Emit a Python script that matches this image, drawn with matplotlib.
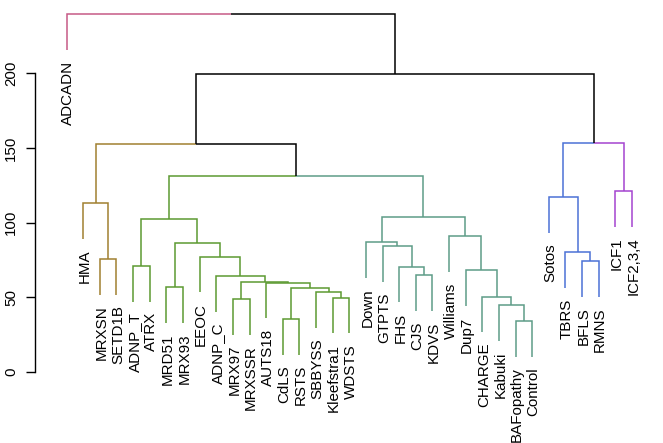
import matplotlib
matplotlib.use('Agg')
import matplotlib.pyplot as plt

# leaves, left to right
leaves = ['ADCADN', 'HMA', 'MRXSN', 'SETD1B', 'ADNP_T', 'ATRX', 'MRD51', 'MRX93',
          'EEOC', 'ADNP_C', 'MRX97', 'MRXSSR', 'AUTS18', 'CdLS', 'RSTS', 'SBBYSS',
          'Kleefstra1', 'WDSTS', 'Down', 'GTPTS', 'FHS', 'CJS', 'KDVS', 'Williams',
          'Dup7', 'CHARGE', 'Kabuki', 'BAFopathy', 'Control', 'Sotos', 'TBRS',
          'BFLS', 'RMNS', 'ICF1', 'ICF2,3,4']

# merges: name, left child, right child, height
merge_name = ['F', 'D', 'I', 'K', 'O', 'R', 'T', 'S', 'Q', 'P', 'N', 'M', 'L', 'J', 'G',
              'Y', 'X', 'W', 'U', 'AC', 'AB', 'AA', 'Z', 'V', 'H', 'E', 'B',
              'AG', 'AF', 'AD', 'AE', 'C', 'A', 'root']
merge_left = ['MRXSN', 'HMA', 'ADNP_T', 'MRD51', 'MRX97', 'CdLS', 'Kleefstra1', 'SBBYSS',
              'R', 'AUTS18', 'O', 'ADNP_C', 'EEOC', 'K', 'I',
              'CJS', 'FHS', 'GTPTS', 'Down', 'BAFopathy', 'Kabuki', 'CHARGE', 'Dup7',
              'Williams', 'U', 'G', 'D', 'BFLS', 'TBRS', 'Sotos', 'ICF1', 'AD', 'B', 'ADCADN']
merge_right = ['SETD1B', 'F', 'ATRX', 'MRX93', 'MRXSSR', 'RSTS', 'WDSTS', 'T',
               'S', 'Q', 'P', 'N', 'M', 'L', 'J',
               'KDVS', 'Y', 'X', 'W', 'Control', 'AC', 'AB', 'AA',
               'Z', 'V', 'H', 'E', 'RMNS', 'AG', 'AF', 'ICF2,3,4', 'AE', 'C', 'A']
merge_height = [75.7, 112.9, 71.0, 56.6, 48.9, 35.5, 49.6, 53.2, 56.3, 59.7, 60.3, 64.1,
                77.1, 86.1, 102.1, 64.8, 70.4, 84.2, 86.7, 34.0, 44.7, 50.3, 68.0, 90.9,
                103.9, 131.4, 152.8, 74.4, 80.0, 117.3, 121.3, 153.7, 199.5, 239.7]

# cluster roots and their branch colours
cluster_root = ['ADCADN', 'D', 'G', 'H', 'AD', 'AE']
cluster_color = ['#c65a86', '#a08030', '#5c9a32', '#5e9c88', '#4c72d6', '#a444d0']

yticks = [0, 50, 100, 150, 200]

children = {n: (l, r) for n, l, r in zip(merge_name, merge_left, merge_right)}
height = {n: h for n, h in zip(merge_name, merge_height)}
top = max(merge_height)
hang = 0.1 * top

xpos = {}
for i, lab in enumerate(leaves):
    xpos[lab] = i + 1
for n in merge_name:
    l, r = children[n]
    xpos[n] = (xpos[l] + xpos[r]) / 2

color = {}
def paint(node, c):
    color[node] = c
    if node in children:
        for ch in children[node]:
            paint(ch, c)
for n in merge_name + leaves:
    color.setdefault(n, 'black')
for n, c in zip(cluster_root, cluster_color):
    paint(n, c)

W, H = 663, 443
fig = plt.figure(figsize=(W / 100, H / 100), dpi=100)
# plot region in pixels: x 35..663.6, y 0..386
ax = fig.add_axes([35 / W, (H - 386) / H, 628.6 / W, 386 / H])
ax.set_xlim(-0.9, 36.9)
ax.set_ylim(-0.04 * top, top * 1.04)

lw = 1.1
fs = 10.9
leaf_end = {}
for n in merge_name:
    h = height[n]
    for ch in children[n]:
        if ch in children:
            bottom = height[ch]
        else:
            bottom = h - hang
            leaf_end[ch] = bottom
        c = color[ch]
        ax.plot([xpos[n], xpos[ch], xpos[ch]], [h, h, bottom], color=c, lw=lw,
                solid_capstyle='butt', solid_joinstyle='miter', clip_on=False)

for lab in leaves:
    ax.annotate(lab, (xpos[lab], leaf_end[lab]), xytext=(3.9, -7.5),
                textcoords='offset points', rotation=90, rotation_mode='anchor',
                ha='right', va='baseline', fontsize=fs, family='Liberation Sans',
                annotation_clip=False)

for s in ['top', 'right', 'bottom']:
    ax.spines[s].set_visible(False)
ax.spines['left'].set_bounds(0, 200)
ax.spines['left'].set_linewidth(1.0)
ax.set_xticks([])
ax.set_yticks(yticks)
ax.set_yticklabels([])
ax.tick_params(axis='y', length=6.5, width=1.0)
for v in yticks:
    ax.annotate(str(v), (0, v), xycoords=('axes fraction', 'data'),
                xytext=(-14.4, 0), textcoords='offset points', rotation=90,
                rotation_mode='anchor', ha='center', va='baseline', fontsize=fs,
                family='Liberation Sans', annotation_clip=False)

fig.savefig('out.png', dpi=100)
